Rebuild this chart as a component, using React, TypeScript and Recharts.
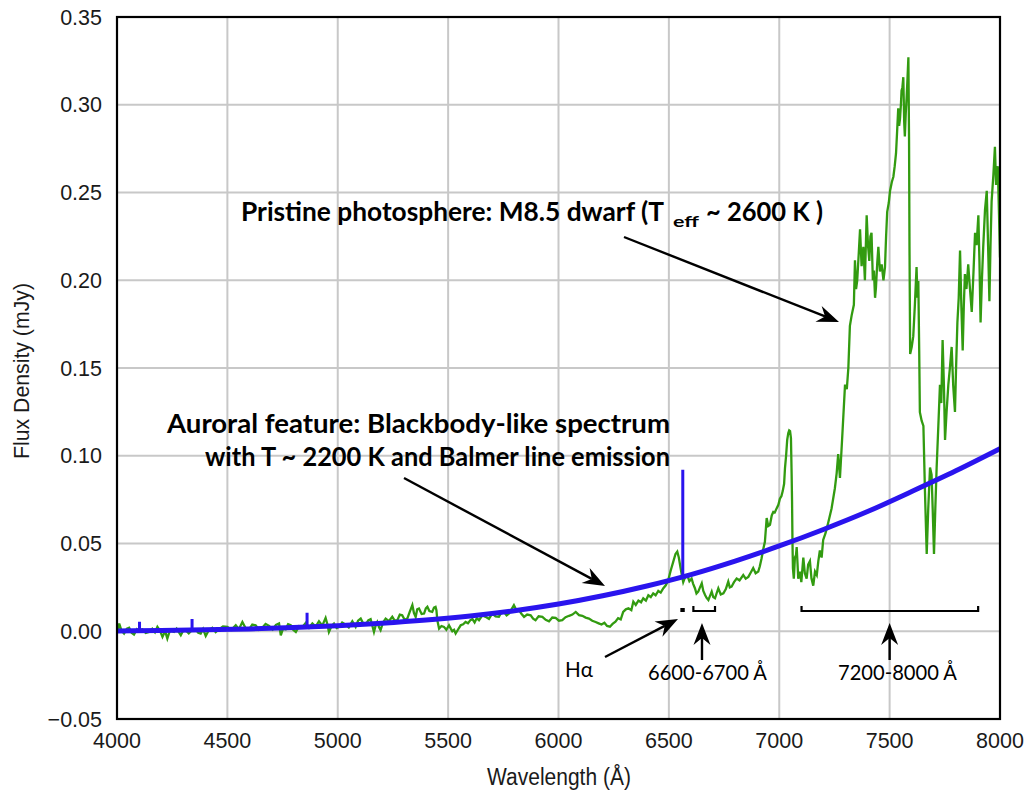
import React from 'react';
import {
  ComposedChart,
  Line,
  XAxis,
  YAxis,
  CartesianGrid,
} from 'recharts';

// ---- spectrum data (wavelength in Å, flux density in mJy) ----

const photosphereWl = [
  4005, 4010, 4020, 4032, 4045, 4055, 4066, 4077, 4090, 4100, 4115, 4130, 4145, 4160, 4172, 4183, 4195, 4206, 4218, 4228,
  4240, 4258, 4270, 4289, 4300, 4311, 4325, 4340, 4356, 4368, 4379, 4390, 4402, 4415, 4432, 4447, 4462, 4480, 4500, 4518,
  4538, 4552, 4568, 4583, 4598, 4613, 4628, 4643, 4658, 4673, 4689, 4705, 4720, 4734, 4742, 4752, 4764, 4775, 4787, 4798,
  4810, 4825, 4840, 4855, 4870, 4885, 4900, 4915, 4930, 4945, 4953, 4960, 4972, 4983, 4995, 5006, 5020, 5036, 5050, 5066,
  5081, 5092, 5104, 5115, 5127, 5138, 5149, 5157, 5164, 5172, 5179, 5187, 5194, 5205, 5217, 5232, 5247, 5258, 5270, 5281,
  5292, 5303, 5315, 5326, 5338, 5345, 5353, 5360, 5368, 5380, 5391, 5399, 5406, 5415, 5428, 5436, 5443, 5447, 5451, 5459,
  5470, 5481, 5492, 5504, 5512, 5519, 5527, 5534, 5545, 5557, 5568, 5579, 5590, 5600, 5610, 5620, 5630, 5640, 5655, 5670,
  5685, 5700, 5715, 5730, 5742, 5753, 5765, 5776, 5787, 5798, 5810, 5821, 5832, 5844, 5858, 5874, 5885, 5896, 5910, 5927,
  5942, 5957, 5972, 5987, 6002, 6017, 6032, 6048, 6063, 6078, 6093, 6108, 6123, 6138, 6153, 6168, 6182, 6195, 6208, 6220,
  6233, 6245, 6258, 6270, 6282, 6293, 6305, 6317, 6330, 6339, 6350, 6362, 6374, 6384, 6396, 6407, 6418, 6429, 6440, 6452,
  6463, 6475, 6486, 6497, 6508, 6520, 6530, 6538, 6545, 6553, 6560, 6565, 6574, 6583, 6593, 6603, 6610, 6618, 6625, 6633,
  6641, 6649, 6656, 6664, 6671, 6679, 6686, 6694, 6701, 6709, 6716, 6724, 6735, 6747, 6758, 6769, 6776, 6784, 6795, 6807,
  6820, 6837, 6848, 6860, 6871, 6882, 6893, 6905, 6912, 6920, 6928, 6935, 6943, 6950, 6958, 6966, 6973, 6980, 6988, 6996,
  7003, 7010, 7016, 7022, 7026, 7031, 7036, 7041, 7045, 7049, 7053, 7056, 7058, 7060, 7062, 7066, 7071, 7076, 7079, 7083,
  7086, 7094, 7100, 7109, 7116, 7124, 7131, 7139, 7146, 7154, 7162, 7170, 7177, 7184, 7192, 7199, 7210, 7222, 7237, 7252,
  7260, 7267, 7275, 7285, 7298, 7306, 7313, 7320, 7328, 7338, 7343, 7348, 7353, 7360, 7366, 7373, 7381, 7388, 7396, 7402,
  7408, 7413, 7418, 7424, 7429, 7434, 7438, 7444, 7449, 7456, 7464, 7472, 7479, 7484, 7489, 7496, 7502, 7510, 7517, 7523,
  7529, 7534, 7539, 7543, 7547, 7551, 7554, 7558, 7562, 7566, 7569, 7573, 7577, 7581, 7585, 7588, 7590, 7593, 7600, 7607,
  7614, 7622, 7626, 7630, 7634, 7637, 7645, 7653, 7660, 7668, 7675, 7683, 7690, 7695, 7701, 7707, 7713, 7720, 7728, 7734,
  7740, 7746, 7751, 7758, 7766, 7773, 7781, 7788, 7796, 7801, 7807, 7813, 7819, 7825, 7831, 7836, 7841, 7848, 7856, 7864,
  7872, 7880, 7887, 7894, 7902, 7907, 7912, 7918, 7924, 7932, 7940, 7946, 7952, 7957, 7962, 7970, 7977, 7982, 7985, 7990,
  7995, 8000,
];

const photosphereFlux = [
  0.0010, 0.0044, 0.0005, -0.0013, 0.0015, 0.0020, -0.0008, -0.0019, 0.0012, 0.0003, 0.0011, -0.0010, -0.0004, 0.0014, -0.0006, 0.0025, 0.0002, -0.0032, 0.0001, -0.0042,
  0.0006, -0.0004, 0.0015, -0.0023, 0.0004, 0.0006, -0.0012, 0.0008, 0.0011, -0.0009, -0.0013, 0.0013, -0.0027, 0.0004, 0.0020, -0.0005, 0.0011, 0.0028, 0.0025, 0.0008,
  0.0034, 0.0012, 0.0053, 0.0017, 0.0011, 0.0038, 0.0034, 0.0009, 0.0020, 0.0042, 0.0030, 0.0010, 0.0036, 0.0044, -0.0023, 0.0015, 0.0011, 0.0040, 0.0034, 0.0008,
  -0.0004, 0.0030, 0.0025, 0.0048, 0.0020, 0.0044, 0.0026, 0.0057, 0.0032, 0.0076, 0.0040, -0.0004, 0.0030, 0.0044, 0.0018, 0.0025, 0.0050, 0.0038, 0.0022, 0.0057,
  0.0025, 0.0060, 0.0072, 0.0045, 0.0038, 0.0062, 0.0069, 0.0030, -0.0004, 0.0035, 0.0053, 0.0022, 0.0006, 0.0050, 0.0072, 0.0058, 0.0082, 0.0060, 0.0063, 0.0095,
  0.0091, 0.0065, 0.0072, 0.0110, 0.0149, 0.0105, 0.0082, 0.0125, 0.0130, 0.0098, 0.0101, 0.0130, 0.0139, 0.0115, 0.0110, 0.0135, 0.0139, 0.0120, 0.0063, 0.0015,
  0.0030, 0.0025, 0.0008, 0.0034, 0.0015, 0.0000, 0.0008, -0.0013, 0.0010, 0.0034, 0.0040, 0.0053, 0.0045, 0.0062, 0.0069, 0.0050, 0.0075, 0.0063, 0.0090, 0.0082,
  0.0070, 0.0101, 0.0085, 0.0082, 0.0108, 0.0110, 0.0090, 0.0101, 0.0125, 0.0149, 0.0118, 0.0120, 0.0100, 0.0082, 0.0095, 0.0091, 0.0072, 0.0063, 0.0085, 0.0082,
  0.0065, 0.0057, 0.0078, 0.0076, 0.0060, 0.0063, 0.0080, 0.0088, 0.0095, 0.0110, 0.0092, 0.0088, 0.0078, 0.0072, 0.0060, 0.0053, 0.0045, 0.0038, 0.0048, 0.0030,
  0.0026, 0.0042, 0.0055, 0.0075, 0.0068, 0.0110, 0.0125, 0.0131, 0.0120, 0.0169, 0.0150, 0.0175, 0.0165, 0.0188, 0.0175, 0.0205, 0.0195, 0.0216, 0.0205, 0.0230,
  0.0220, 0.0245, 0.0262, 0.0290, 0.0345, 0.0397, 0.0440, 0.0454, 0.0420, 0.0360, 0.0310, 0.0280, 0.0310, 0.0320, 0.0285, 0.0300, 0.0270, 0.0245, 0.0215, 0.0226,
  0.0250, 0.0273, 0.0230, 0.0207, 0.0190, 0.0178, 0.0200, 0.0226, 0.0195, 0.0188, 0.0215, 0.0245, 0.0210, 0.0216, 0.0240, 0.0283, 0.0250, 0.0254, 0.0280, 0.0300,
  0.0290, 0.0320, 0.0300, 0.0310, 0.0335, 0.0360, 0.0330, 0.0340, 0.0370, 0.0416, 0.0470, 0.0510, 0.0645, 0.0600, 0.0607, 0.0660, 0.0680, 0.0677, 0.0700, 0.0720,
  0.0755, 0.0770, 0.0800, 0.0840, 0.0930, 0.1000, 0.1090, 0.1130, 0.1144, 0.1140, 0.1100, 0.0900, 0.0740, 0.0500, 0.0360, 0.0300, 0.0420, 0.0435, 0.0480, 0.0380,
  0.0300, 0.0340, 0.0280, 0.0420, 0.0330, 0.0300, 0.0380, 0.0400, 0.0300, 0.0260, 0.0340, 0.0320, 0.0400, 0.0460, 0.0420, 0.0520, 0.0560, 0.0620, 0.0700, 0.0815,
  0.0900, 0.1010, 0.0873, 0.1100, 0.1405, 0.1380, 0.1500, 0.1740, 0.1800, 0.1860, 0.2114, 0.1950, 0.1996, 0.2150, 0.2290, 0.2080, 0.2190, 0.2000, 0.2370, 0.2200,
  0.2110, 0.2250, 0.2270, 0.2000, 0.2055, 0.1900, 0.1956, 0.2100, 0.2190, 0.2050, 0.2090, 0.2000, 0.2075, 0.2250, 0.2390, 0.2440, 0.2510, 0.2560, 0.2590, 0.2650,
  0.2724, 0.2850, 0.2980, 0.2880, 0.2920, 0.3000, 0.3080, 0.3100, 0.3157, 0.2900, 0.2820, 0.2950, 0.3040, 0.3150, 0.3270, 0.2800, 0.2190, 0.1580, 0.1620, 0.1680,
  0.1850, 0.2075, 0.1900, 0.1996, 0.1600, 0.1248, 0.1200, 0.1170, 0.0800, 0.0440, 0.0700, 0.0933, 0.0893, 0.0700, 0.0440, 0.0700, 0.0933, 0.1150, 0.1405, 0.1300,
  0.1660, 0.1400, 0.1090, 0.1250, 0.1405, 0.1500, 0.1620, 0.1400, 0.1250, 0.1500, 0.1760, 0.1900, 0.2170, 0.1850, 0.1600, 0.1850, 0.2035, 0.1950, 0.2090, 0.1950,
  0.1820, 0.2050, 0.2270, 0.2200, 0.2370, 0.2100, 0.1760, 0.2000, 0.2190, 0.2400, 0.2510, 0.2200, 0.1880, 0.2200, 0.2450, 0.2600, 0.2760, 0.2550, 0.2550, 0.2650,
  0.2400, 0.2130,
];

// smooth ~2200 K blackbody continuum of the auroral feature
const auroraWl = [4000, 4200, 4400, 4600, 4800, 5000, 5200, 5400, 5600, 5800, 6000, 6200, 6400, 6600, 6800, 7000, 7200, 7400, 7600, 7800, 8000];
const auroraFlux = [0.0002, 0.0004, 0.0008, 0.0013, 0.0021, 0.0032, 0.0046, 0.0064, 0.0087, 0.0117, 0.0155, 0.0202, 0.0258, 0.0323, 0.0400, 0.0486, 0.0580, 0.0682, 0.0796, 0.0914, 0.1040];

// Balmer emission lines (Hδ, Hγ, Hβ, Hα): base and peak flux
const balmerWl = [4102, 4340, 4861, 6563];
const balmerBase = [0.0003, 0.0006, 0.0022, 0.0305];
const balmerPeak = [0.0054, 0.0070, 0.0106, 0.0920];

const xTicks = [4000, 4500, 5000, 5500, 6000, 6500, 7000, 7500, 8000];
const yTicks = [-0.05, 0, 0.05, 0.1, 0.15, 0.2, 0.25, 0.3, 0.35];

const photosphere = photosphereWl.map((wl, i) => ({ wl, flux: photosphereFlux[i] }));
const aurora = auroraWl.map((wl, i) => ({ wl, flux: auroraFlux[i] }));
const balmer = balmerWl.flatMap((wl, i) => [
  { wl, flux: balmerBase[i] },
  { wl, flux: balmerPeak[i] },
  { wl: wl + 0.5, flux: null },
]);

// ---- layout ----
const W = 1031;
const H = 792;
const PLOT = { left: 117, top: 17, right: 1000, bottom: 719 };
const X_MIN = 4000, X_MAX = 8000;

const px = (wl: number) => PLOT.left + ((wl - X_MIN) / (X_MAX - X_MIN)) * (PLOT.right - PLOT.left);

const GREEN = '#329b10';
const BLUE = '#2a14ee';
const TICK_FONT = '"Liberation Sans", Arial, sans-serif';
const NOTE_FONT = 'Lato, "Open Sans", sans-serif';

const fmtY = (v: number) => (v < 0 ? '\u2212' + Math.abs(v).toFixed(2) : v.toFixed(2));

const Arrow: React.FC<{ x1: number; y1: number; x2: number; y2: number }> = ({ x1, y1, x2, y2 }) => {
  const dx = x2 - x1, dy = y2 - y1;
  const len = Math.hypot(dx, dy);
  const ux = dx / len, uy = dy / len;
  const head = 22, half = 8.5, notch = 15;
  const bx = x2 - ux * head, by = y2 - uy * head;
  const nx = x2 - ux * notch, ny = y2 - uy * notch;
  const d = `M${x2},${y2} L${bx - uy * half},${by + ux * half} L${nx},${ny} L${bx + uy * half},${by - ux * half} Z`;
  return (
    <g>
      <line x1={x1} y1={y1} x2={nx} y2={ny} stroke="#000" strokeWidth={2.4} />
      <path d={d} fill="#000" />
    </g>
  );
};

// bracket marking a wavelength range, ticks pointing up
const Bracket: React.FC<{ from: number; to: number; y: number; tick: number }> = ({ from, to, y, tick }) => (
  <path
    d={`M${px(from)},${y - tick} L${px(from)},${y} L${px(to)},${y} L${px(to)},${y - tick}`}
    fill="none"
    stroke="#000"
    strokeWidth={2.2}
  />
);

const Annotations: React.FC = () => (
  <svg width={W} height={H} style={{ position: 'absolute', left: 0, top: 0, pointerEvents: 'none' }}>
    <rect
      x={PLOT.left}
      y={PLOT.top}
      width={PLOT.right - PLOT.left}
      height={PLOT.bottom - PLOT.top}
      fill="none"
      stroke="#000"
      strokeWidth={2.2}
    />

    {/* axis titles */}
    <text
      transform="translate(559,785) scale(1,1.12)"
      textAnchor="middle"
      fontFamily={TICK_FONT}
      fontSize={21}
      fill="#1a1a1a"
    >
      Wavelength (Å)
    </text>
    <text
      transform="translate(29,371) rotate(-90) scale(1,1.1)"
      textAnchor="middle"
      fontFamily={TICK_FONT}
      fontSize={19.5}
      fill="#1a1a1a"
      textLength={176}
      lengthAdjust="spacingAndGlyphs"
    >
      Flux Density (mJy)
    </text>

    {/* photosphere label, with T_eff as a subscript run */}
    <g fontFamily={NOTE_FONT} fontWeight={700} fill="#000">
      <text x={241} y={221} fontSize={27}>
        <tspan textLength={423} lengthAdjust="spacingAndGlyphs">Pristine photosphere: M8.5 dwarf (T</tspan>
        <tspan x={673} dy={6} fontSize={15.5} textLength={26} lengthAdjust="spacingAndGlyphs">eff</tspan>
        <tspan x={706} dy={-6} textLength={117} lengthAdjust="spacingAndGlyphs">~ 2600 K )</tspan>
      </text>
      <text x={167} y={433} fontSize={27} textLength={503} lengthAdjust="spacingAndGlyphs">
        Auroral feature: Blackbody-like spectrum
      </text>
      <text x={205} y={466} fontSize={27} textLength={465} lengthAdjust="spacingAndGlyphs">
        with T ~ 2200 K and Balmer line emission
      </text>
    </g>

    <Arrow x1={624} y1={237} x2={839} y2={322} />
    <Arrow x1={404} y1={478} x2={605} y2={586} />
    <Arrow x1={605} y1={657} x2={678} y2={619} />
    <Arrow x1={px(6650)} y1={660} x2={px(6650)} y2={623} />
    <Arrow x1={px(7500)} y1={660} x2={px(7500)} y2={623} />

    <Bracket from={6557} to={6567} y={611} tick={3} />
    <Bracket from={6611} to={6709} y={611} tick={5} />
    <Bracket from={7101} to={7901} y={611} tick={5} />

    <g fontFamily={NOTE_FONT} fontSize={21} fill="#000">
      <text x={565} y={677} textLength={28} lengthAdjust="spacingAndGlyphs">Hα</text>
      <text x={648} y={680} textLength={119} lengthAdjust="spacingAndGlyphs">6600-6700 Å</text>
      <text x={838} y={680} textLength={119} lengthAdjust="spacingAndGlyphs">7200-8000 Å</text>
    </g>
  </svg>
);

export default function App() {
  return (
    <div style={{ position: 'absolute', left: 0, top: 0, width: W, height: H, background: '#fff' }}>
      <ComposedChart
        width={W}
        height={H}
        margin={{ top: PLOT.top, right: W - PLOT.right, bottom: 0, left: 0 }}
      >
        <CartesianGrid stroke="#c8c8c8" strokeWidth={2} horizontalValues={yTicks} verticalValues={xTicks} />
        <XAxis
          type="number"
          dataKey="wl"
          domain={[X_MIN, X_MAX]}
          ticks={xTicks}
          interval={0}
          allowDataOverflow
          height={H - PLOT.bottom}
          tickLine={false}
          tickSize={0}
          tickMargin={14}
          axisLine={{ stroke: '#000', strokeWidth: 2 }}
          tick={{ fontSize: 21.5, fill: '#1a1a1a', fontFamily: TICK_FONT }}
        />
        <YAxis
          type="number"
          domain={[-0.05, 0.35]}
          ticks={yTicks}
          interval={0}
          allowDataOverflow
          width={PLOT.left}
          tickLine={false}
          tickSize={0}
          tickMargin={15}
          tickFormatter={fmtY}
          axisLine={{ stroke: '#000', strokeWidth: 2 }}
          tick={{ fontSize: 21.5, fill: '#1a1a1a', fontFamily: TICK_FONT }}
        />
        <Line
          data={photosphere}
          dataKey="flux"
          type="linear"
          stroke={GREEN}
          strokeWidth={2.3}
          dot={false}
          isAnimationActive={false}
        />
        <Line
          data={aurora}
          dataKey="flux"
          type="monotone"
          stroke={BLUE}
          strokeWidth={5}
          dot={false}
          isAnimationActive={false}
        />
        <Line
          data={balmer}
          dataKey="flux"
          type="linear"
          stroke={BLUE}
          strokeWidth={3}
          dot={false}
          connectNulls={false}
          isAnimationActive={false}
        />
      </ComposedChart>
      <Annotations />
    </div>
  );
}
